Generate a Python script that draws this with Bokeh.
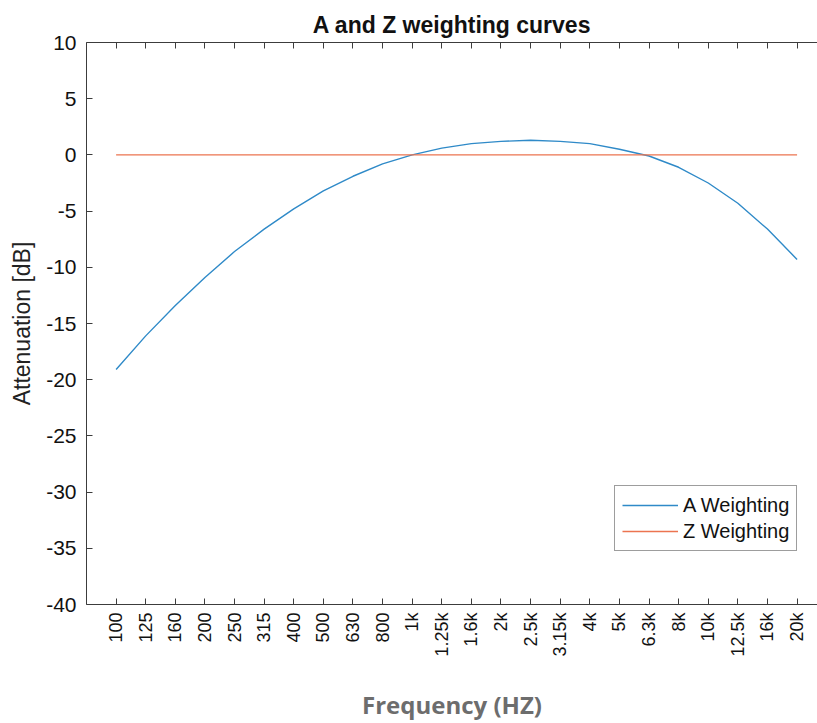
import math
from bokeh.plotting import figure
from bokeh.models import LinearAxis, FixedTicker, Range1d, Legend, LegendItem
from bokeh.embed import file_html
from bokeh.resources import INLINE

bands = ["100", "125", "160", "200", "250", "315", "400", "500", "630", "800",
         "1k", "1.25k", "1.6k", "2k", "2.5k", "3.15k", "4k", "5k", "6.3k", "8k",
         "10k", "12.5k", "16k", "20k"]
a_weight = [-19.1, -16.1, -13.4, -10.9, -8.6, -6.6, -4.8, -3.2, -1.9, -0.8,
            0.0, 0.6, 1.0, 1.2, 1.3, 1.2, 1.0, 0.5, -0.1, -1.1,
            -2.5, -4.3, -6.6, -9.3]
z_weight = [0.0] * len(bands)
y_ticks = [-40, -35, -30, -25, -20, -15, -10, -5, 0, 5, 10]
y_tick_labels = ["-40", "-35", "-30", "-25", "-20", "-15", "-10", "-5", "0", "5", "10"]

idx = list(range(len(bands)))
FONT = "Liberation Sans"
AX = "#3c3c3c"

p = figure(width=817, height=723, output_backend="svg", toolbar_location=None,
           x_range=Range1d(-1, 23.69), y_range=Range1d(-40, 10),
           min_border_left=86, min_border_right=0, min_border_top=42,
           min_border_bottom=119, x_axis_location="below")
p.outline_line_color = None
p.xgrid.visible = False
p.ygrid.visible = False

p.title.text = "A and Z weighting curves"
p.title.align = "center"
p.title.text_font = FONT
p.title.text_font_size = "23px"
p.title.text_font_style = "bold"
p.title.text_color = "#111111"

xa = p.xaxis[0]
xa.ticker = FixedTicker(ticks=idx)
xa.major_label_overrides = {i: b for i, b in enumerate(bands)}
xa.major_label_orientation = math.pi / 2
xa.major_label_text_font = FONT
xa.major_label_text_font_size = "18px"
xa.major_label_text_color = "#111111"
xa.major_tick_in = 6
xa.major_tick_out = 0
xa.minor_tick_line_color = None
xa.axis_line_color = AX
xa.major_tick_line_color = AX
xa.major_label_standoff = 8
xa.axis_label = "Frequency (HZ)"
xa.axis_label_text_font = "Open Sans"
xa.axis_label_text_font_style = "bold"
xa.axis_label_text_font_size = "24px"
xa.axis_label_text_color = "#6d6d6d"
xa.axis_label_standoff = 28

ya = p.yaxis[0]
ya.ticker = FixedTicker(ticks=y_ticks)
ya.major_label_overrides = {t: s for t, s in zip(y_ticks, y_tick_labels)}
ya.major_label_text_font = FONT
ya.major_label_text_font_size = "21px"
ya.major_label_text_color = "#111111"
ya.major_tick_in = 6
ya.major_tick_out = 0
ya.minor_tick_line_color = None
ya.axis_line_color = AX
ya.major_tick_line_color = AX
ya.major_label_standoff = 10
ya.axis_label = "Attenuation [dB]"
ya.axis_label_text_font = FONT
ya.axis_label_text_font_size = "23px"
ya.axis_label_text_font_style = "normal"
ya.axis_label_text_color = "#222222"
ya.axis_label_standoff = 8

top = LinearAxis(ticker=FixedTicker(ticks=idx), major_label_text_font_size="0px",
                 major_tick_in=6, major_tick_out=0, minor_tick_line_color=None,
                 axis_line_color=AX, major_tick_line_color=AX,
                 major_label_standoff=0)
top.major_label_text_alpha = 0
p.add_layout(top, "above")

ra = p.line(idx, a_weight, line_color="#2F8AC8", line_width=1.4)
rz = p.line(idx, z_weight, line_color="#EC7450", line_width=1.4)

legend = Legend(items=[LegendItem(label="A Weighting", renderers=[ra]),
                       LegendItem(label="Z Weighting", renderers=[rz])],
                location=(528, 53))
legend.border_line_color = AX
legend.border_line_width = 1
legend.label_text_font = FONT
legend.label_text_font_size = "20px"
legend.label_text_color = "#111111"
legend.glyph_width = 56
legend.glyph_height = 24
legend.label_height = 24
legend.spacing = 2
legend.padding = 7
legend.margin = 0
legend.label_standoff = 5
legend.background_fill_color = "white"
p.add_layout(legend, "center")

open("out.html", "w").write(file_html(p, INLINE))
